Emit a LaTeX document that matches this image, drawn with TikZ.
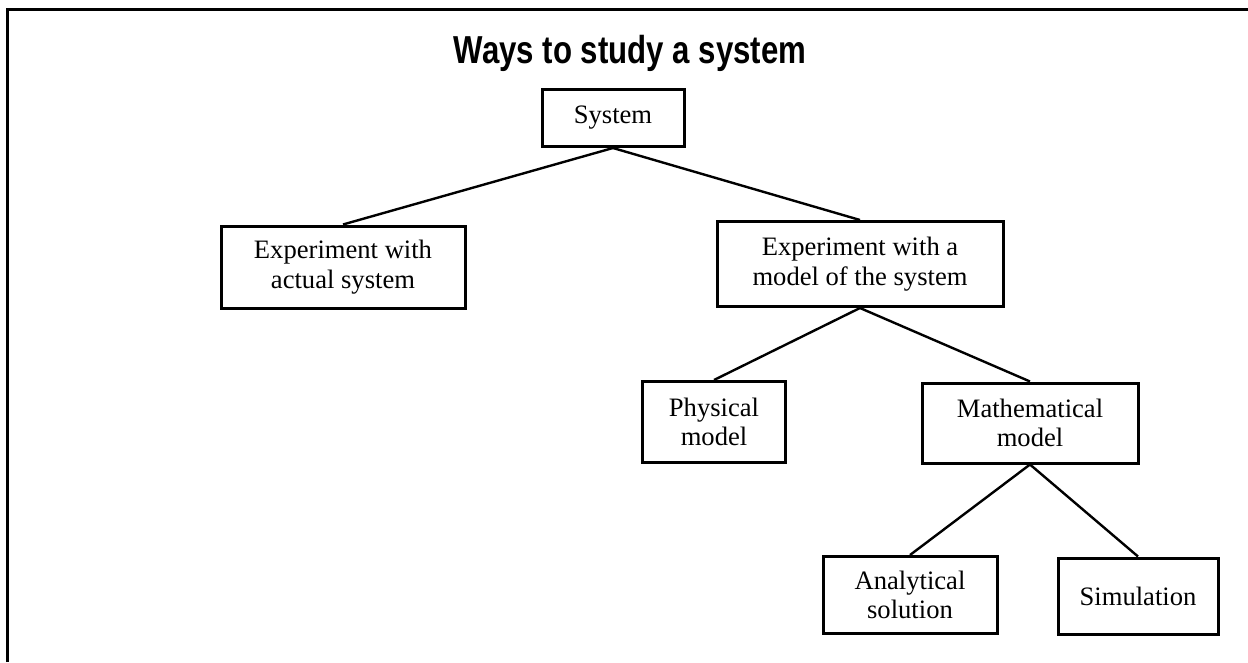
\documentclass[tikz,border=0pt]{standalone}
\usepackage{fontspec}
\setmainfont{Liberation Serif}
\newfontfamily\titlefont[FakeStretch=0.80]{Liberation Sans}
\usetikzlibrary{positioning}

\begin{document}
\begin{tikzpicture}[x=1pt, y=-1pt,
		box/.style={draw, rectangle, line width=3pt, align=center, inner sep=0pt, font=\fontsize{26.6}{29.5}\selectfont},
		link/.style={line width=2.4pt}]
		\useasboundingbox (0,0) rectangle (1248,662);
		\draw[line width=2.7pt] (7.5,662) -- (7.5,9.5) -- (1248,9.5);

		\node[anchor=base, inner sep=0pt, font=\titlefont\bfseries\fontsize{39}{44}\selectfont] (title) at (630,63) {Ways to study a system};

		\node[box, minimum width=142pt, minimum height=57pt] (sys) at (613,118) {System};
		\node[box, minimum width=244pt, minimum height=82pt] (act) at (343,267) {Experiment with\\actual system};
		\node[box, minimum width=286pt, minimum height=85pt] (mod) at (860,264) {Experiment with a\\model of the system};
		\node[box, minimum width=143pt, minimum height=81pt] (phy) at (714,422) {Physical\\model};
		\node[box, minimum width=216pt, minimum height=80pt] (mat) at (1030,423) {Mathematical\\model};
		\node[box, minimum width=174pt, minimum height=77pt] (ana) at (910,595) {Analytical\\solution};
		\node[box, minimum width=160pt, minimum height=76pt] (sim) at (1138,596) {Simulation};

		\draw[link] (sys.south) -- (act.north);
		\draw[link] (sys.south) -- (mod.north);
		\draw[link] (mod.south) -- (phy.north);
		\draw[link] (mod.south) -- (mat.north);
		\draw[link] (mat.south) -- (ana.north);
		\draw[link] (mat.south) -- (sim.north);
	\end{tikzpicture}
\end{document}
